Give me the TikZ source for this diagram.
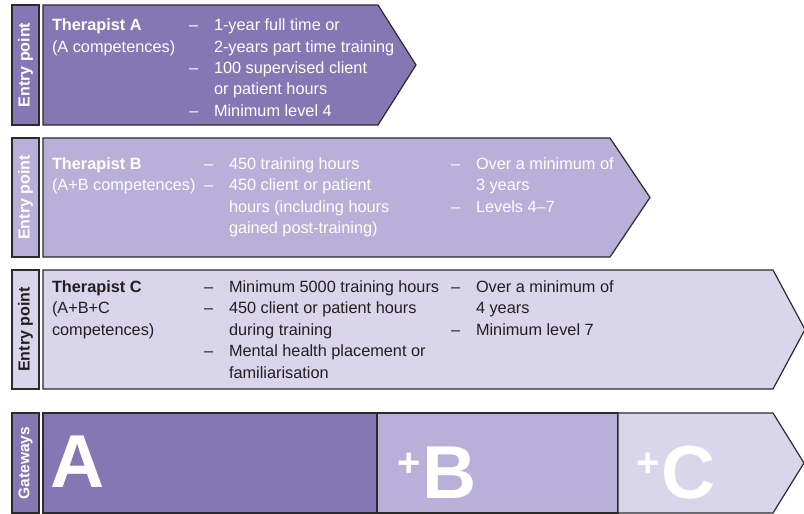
\documentclass[tikz,border=0pt]{standalone}
\usepackage{fontspec}
\setmainfont{Liberation Sans}
\definecolor{cDark}{HTML}{8577B3}
\definecolor{cMid}{HTML}{B8B0D8}
\definecolor{cLight}{HTML}{D9D5EB}
\definecolor{cLine}{HTML}{2B2B2B}
\definecolor{cText}{HTML}{231F20}
\newcommand{\mystack}[1]{\vtop{\baselineskip=21.5pt\lineskiplimit=-100pt\lineskip=0pt #1}}
\newcommand{\myline}[1]{\hbox{#1}}
\begin{document}
\begin{tikzpicture}[x=1pt,y=-1pt,
  box/.style={draw=cLine, line width=1.2pt, line join=miter},
  txt/.style={anchor=base west, inner sep=0pt, outer sep=0pt,
    font=\fontsize{16.3}{21.5}\selectfont},
  sidelabel/.style={rotate=90, inner sep=0pt, font=\bfseries\fontsize{16}{16}\selectfont},
  bigletter/.style={anchor=base west, inner sep=0pt, text=white,
    font=\bfseries\fontsize{75}{75}\selectfont}]
\useasboundingbox (0,0) rectangle (804,514);

% ---------- Row A ----------
\draw[box, fill=cDark] (12,5) rectangle (39,125);
\node[sidelabel, text=white] (epA) at (25.5,65) {Entry point};
\draw[box, fill=cDark] (43,5) -- (378,5) -- (416,65) -- (378,125) -- (43,125) -- cycle;
\node[txt, text=white] (a1) at (52,30.5) {\mystack{\myline{\bfseries Therapist A}\myline{(A competences)}}};
\node[txt, text=white] (a2) at (189,30.5) {\mystack{\myline{–}\myline{}\myline{–}\myline{}\myline{–}}};
\node[txt, text=white] (a3) at (214,30.5) {\mystack{\myline{1-year full time or}\myline{2-years part time training}\myline{100 supervised client}\myline{or patient hours}\myline{Minimum level 4}}};

% ---------- Row B ----------
\draw[box, fill=cMid] (12,138) rectangle (39,257);
\node[sidelabel, text=white] (epB) at (25.5,197.5) {Entry point};
\draw[box, fill=cMid] (43,138) -- (610,138) -- (650,197.5) -- (610,257) -- (43,257) -- cycle;
\node[txt, text=white] (b1) at (52,169) {\mystack{\myline{\bfseries Therapist B}\myline{(A+B competences)}}};
\node[txt, text=white] (b2) at (204,169) {\mystack{\myline{–}\myline{–}}};
\node[txt, text=white] (b3) at (229,169) {\mystack{\myline{450 training hours}\myline{450 client or patient}\myline{hours (including hours}\myline{gained post-training)}}};
\node[txt, text=white] (b4) at (451,169) {\mystack{\myline{–}\myline{}\myline{–}}};
\node[txt, text=white] (b5) at (476,169) {\mystack{\myline{Over a minimum of}\myline{3 years}\myline{Levels 4–7}}};

% ---------- Row C ----------
\draw[box, fill=cLight] (12,270) rectangle (39,389);
\node[sidelabel, text=cText] (epC) at (25.5,329.5) {Entry point};
\draw[box, fill=cLight] (43,270) -- (773,270) -- (805,329.5) -- (773,389) -- (43,389) -- cycle;
\node[txt, text=cText] (c1) at (52,292) {\mystack{\myline{\bfseries Therapist C}\myline{(A+B+C}\myline{competences)}}};
\node[txt, text=cText] (c2) at (204,292) {\mystack{\myline{–}\myline{–}\myline{}\myline{–}}};
\node[txt, text=cText] (c3) at (229,292) {\mystack{\myline{Minimum 5000 training hours}\myline{450 client or patient hours}\myline{during training}\myline{Mental health placement or}\myline{familiarisation}}};
\node[txt, text=cText] (c4) at (451,292) {\mystack{\myline{–}\myline{}\myline{–}}};
\node[txt, text=cText] (c5) at (476,292) {\mystack{\myline{Over a minimum of}\myline{4 years}\myline{Minimum level 7}}};

% ---------- Gateways ----------
\draw[box, fill=cDark] (12,413) rectangle (39,513);
\node[sidelabel, text=white, font=\bfseries\fontsize{15.5}{15.5}\selectfont] (gw) at (25.5,463) {Gateways};
\draw[box, fill=cDark] (43,413) rectangle (377,513);
\draw[box, fill=cMid] (377,413) rectangle (618,513);
\draw[box, fill=cLight] (618,413) -- (773,413) -- (804,463) -- (773,513) -- (618,513) -- cycle;
\node[bigletter] (gA) at (50,487) {A};
\node[bigletter] (gB) at (397,498) {\raisebox{22pt}{\fontsize{40}{40}\selectfont +}\hspace{2pt}B};
\node[bigletter] (gC) at (636,498) {\raisebox{22pt}{\fontsize{40}{40}\selectfont +}\hspace{2pt}C};
\end{tikzpicture}
\end{document}
